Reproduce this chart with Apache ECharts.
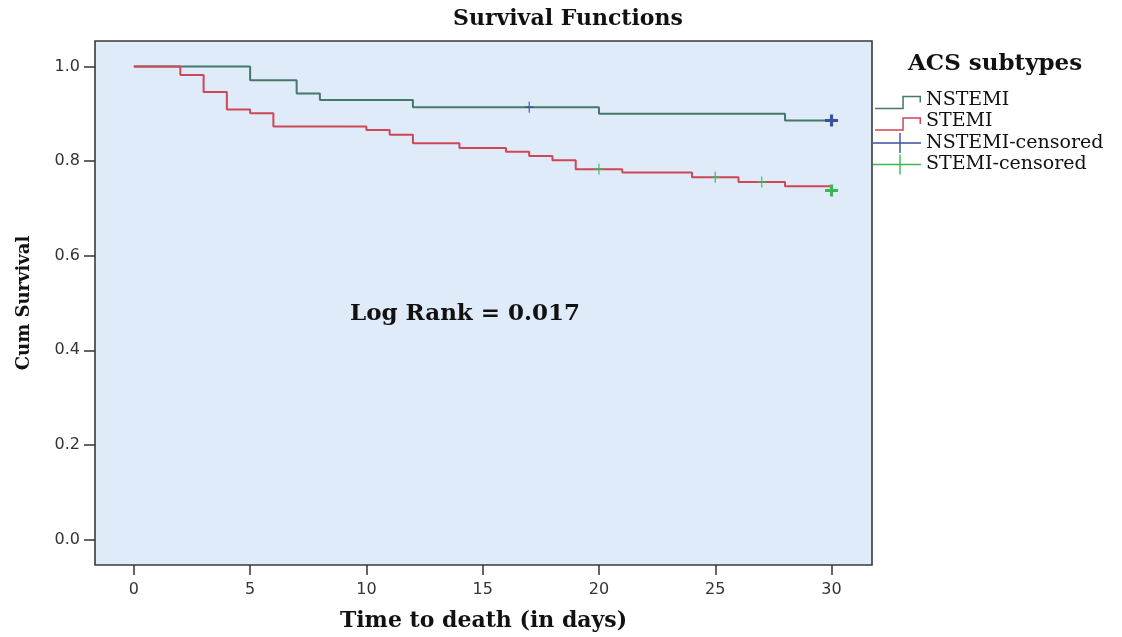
<!DOCTYPE html>
<html><head><meta charset="utf-8">
<script src="https://cdn.jsdelivr.net/npm/echarts@6/dist/echarts.min.js"></script>
<style>html,body{margin:0;padding:0;background:#fff}#c{width:1122px;height:637px}</style>
</head><body><div id="c"></div>
<script>
// ---- data ----
const nstemiTimes = [0, 5, 7, 8, 12, 20, 28, 30];
const nstemiSurvival = [1.0, 0.971, 0.943, 0.929, 0.914, 0.900, 0.886, 0.886];
const stemiTimes = [0, 2, 3, 4, 5, 6, 10, 11, 12, 14, 16, 17, 18, 19, 21, 24, 26, 28, 30];
const stemiSurvival = [1.0, 0.982, 0.946, 0.909, 0.901, 0.873, 0.866, 0.856, 0.838, 0.828, 0.820, 0.811, 0.802, 0.783, 0.776, 0.766, 0.756, 0.747, 0.738];
const nstemiCensTimes = [17, 30];
const nstemiCensSurvival = [0.914, 0.886];
const stemiCensTimes = [20, 25, 27, 30];
const stemiCensSurvival = [0.783, 0.766, 0.756, 0.738];
const xTicks = [0, 5, 10, 15, 20, 25, 30];
const yTicks = [0, 0.2, 0.4, 0.6, 0.8, 1.0];
const seriesNames = ['NSTEMI', 'STEMI', 'NSTEMI-censored', 'STEMI-censored'];
const chartTitle = 'Survival Functions';
const legendTitle = 'ACS subtypes';
const annotation = 'Log Rank = 0.017';
const xName = 'Time to death (in days)';
const yName = 'Cum Survival';

// ---- styling ----
const SERIF = '"DejaVu Serif", "Liberation Serif", serif';
const SANS = '"DejaVu Sans", "Liberation Sans", sans-serif';
const colNstemi = '#44786a';
const colStemi = '#cf4656';
const colNCens = '#3a4f9f';
const colSCens = '#3db552';

const plusThin = 'path://M44,0 L56,0 L56,44 L100,44 L100,56 L56,56 L56,100 L44,100 L44,56 L0,56 L0,44 L44,44 Z';
const plusBold = 'path://M38,0 L62,0 L62,38 L100,38 L100,62 L62,62 L62,100 L38,100 L38,62 L0,62 L0,38 L38,38 Z';
const anchors = 'M0,0 L0.01,0 L0,0.01 Z M54,20 L53.99,20 L54,19.99 Z ';
const stepIcon = 'path://' + anchors + 'M8,17.8 L35.3,17.8 L35.3,5.8 L54,5.8 L54,12.5 L52.5,12.5 L52.5,7.3 L36.8,7.3 L36.8,19.3 L8,19.3 Z';
const censIcon = 'path://' + anchors + 'M6,9.3 L32.3,9.3 L32.3,0 L33.7,0 L33.7,9.3 L54,9.3 L54,10.7 L33.7,10.7 L33.7,20 L32.3,20 L32.3,10.7 L6,10.7 Z';

function pairs(xs, ys) { return xs.map((x, i) => [x, ys[i]]); }
function censData(xs, ys) {
  return xs.map((x, i) => {
    const last = i === xs.length - 1;
    return { value: [x, ys[i]], symbol: last ? plusBold : plusThin, symbolSize: last ? [13, 12] : [9, 11] };
  });
}

const chart = echarts.init(document.getElementById('c'));
chart.setOption({
  animation: false,
  backgroundColor: '#ffffff',
  title: [
    { text: chartTitle, left: 453, top: 8, padding: 0,
      textStyle: { fontFamily: SERIF, fontWeight: 'bold', fontSize: 22, color: '#111' } },
    { text: legendTitle, left: 908, top: 53, padding: 0,
      textStyle: { fontFamily: SERIF, fontWeight: 'bold', fontSize: 23, color: '#111' } },
    { text: annotation, left: 350, top: 303, padding: 0,
      textStyle: { fontFamily: SERIF, fontWeight: 'bold', fontSize: 23, color: '#111' } }
  ],
  legend: {
    orient: 'vertical', left: 867, top: 90, padding: 0, itemGap: 1.5,
    itemWidth: 54, itemHeight: 20,
    itemStyle: { borderWidth: 0 },
    textStyle: { fontFamily: SERIF, fontSize: 19, color: '#111' },
    selectedMode: false,
    data: [
      { name: seriesNames[0], icon: stepIcon },
      { name: seriesNames[1], icon: stepIcon },
      { name: seriesNames[2], icon: censIcon },
      { name: seriesNames[3], icon: censIcon }
    ]
  },
  grid: {
    left: 95, right: 250, top: 41, bottom: 71,
    show: true, backgroundColor: '#dfebf8', borderColor: '#3a3a3a', borderWidth: 1.6
  },
  xAxis: {
    type: 'value', min: -1.67, max: 31.74,
    name: xName, nameLocation: 'middle', nameGap: 45,
    nameTextStyle: { fontFamily: SERIF, fontWeight: 'bold', fontSize: 22, color: '#111' },
    axisLine: { show: false, onZero: false },
    splitLine: { show: false },
    axisTick: { show: true, inside: false, length: 10, customValues: xTicks, lineStyle: { color: '#333', width: 1.5 } },
    axisLabel: { customValues: xTicks, margin: 17, fontFamily: SANS, fontSize: 16, color: '#333', formatter: v => String(v) }
  },
  yAxis: {
    type: 'value', min: -0.054, max: 1.054,
    name: yName, nameLocation: 'middle', nameGap: 62, nameRotate: 90,
    nameTextStyle: { fontFamily: SERIF, fontWeight: 'bold', fontSize: 18, color: '#111' },
    axisLine: { show: false, onZero: false },
    splitLine: { show: false },
    axisTick: { show: true, inside: false, length: 11, customValues: yTicks, lineStyle: { color: '#333', width: 1.5 } },
    axisLabel: { customValues: yTicks, margin: 15, fontFamily: SANS, fontSize: 16, color: '#333', formatter: v => v.toFixed(1) }
  },
  series: [
    { name: seriesNames[0], type: 'line', step: 'end', showSymbol: false, data: pairs(nstemiTimes, nstemiSurvival),
      itemStyle: { color: colNstemi }, lineStyle: { color: colNstemi, width: 2 }, z: 2 },
    { name: seriesNames[1], type: 'line', step: 'end', showSymbol: false, data: pairs(stemiTimes, stemiSurvival),
      itemStyle: { color: colStemi }, lineStyle: { color: colStemi, width: 2 }, z: 2 },
    { name: seriesNames[2], type: 'scatter', data: censData(nstemiCensTimes, nstemiCensSurvival),
      itemStyle: { color: colNCens, opacity: 1 }, z: 3 },
    { name: seriesNames[3], type: 'scatter', data: censData(stemiCensTimes, stemiCensSurvival),
      itemStyle: { color: colSCens, opacity: 1 }, z: 3 }
  ]
});
</script></body></html>
